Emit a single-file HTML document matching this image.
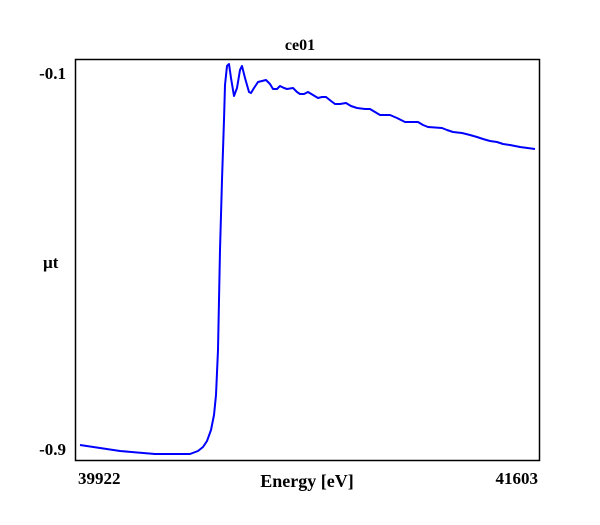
<!DOCTYPE html>
<html><head><meta charset="utf-8"><style>
html,body{margin:0;padding:0;background:#fff;}
svg text{font-family:"Liberation Serif",serif;font-weight:bold;fill:#000;}
</style></head><body>
<svg width="600" height="520" viewBox="0 0 600 520" xmlns="http://www.w3.org/2000/svg">
<rect x="0" y="0" width="600" height="520" fill="#fff"/>
<rect x="75.5" y="59.5" width="464" height="401" fill="none" stroke="#000" stroke-width="1.5"/>
<text x="300" y="50" font-size="16" text-anchor="middle">ce01</text>
<text x="66" y="79" font-size="17" text-anchor="end">-0.1</text>
<text x="66" y="455" font-size="17" text-anchor="end">-0.9</text>
<text x="43" y="268" font-size="17">µt</text>
<text x="78" y="484" font-size="17">39922</text>
<text x="538" y="484" font-size="17" text-anchor="end">41603</text>
<text x="307" y="487" font-size="18" text-anchor="middle">Energy [eV]</text>
<polyline fill="none" stroke="#0000ff" stroke-width="2" stroke-linejoin="round" points="80,445 120,451 155,454 190,454 198,451 203,447 207,441 211,430 214,415 216,395 218,350 220,250 222,180 224,120 225,85 227,66 229,64 231,78 234,96 237,88 240,70 242,66 245,78 249,92 251,93 254,88 258,82 266,80 270,84 273,89 277,89 280,86 284,88 287,89 293,88 297,92 300,94 304,94 308,92 313,95 318,98 322,97 326,97 331,101 335,104 340,104 346,103 351,106 357,108 365,109 370,109 375,112 380,115 390,115 397,118 405,122 418,122 423,125 428,127 442,128 447,130 453,132 462,133 470,135 477,137 483,139 490,141 497,142 503,144 510,145 520,147 535,149"/>
</svg>
</body></html>
